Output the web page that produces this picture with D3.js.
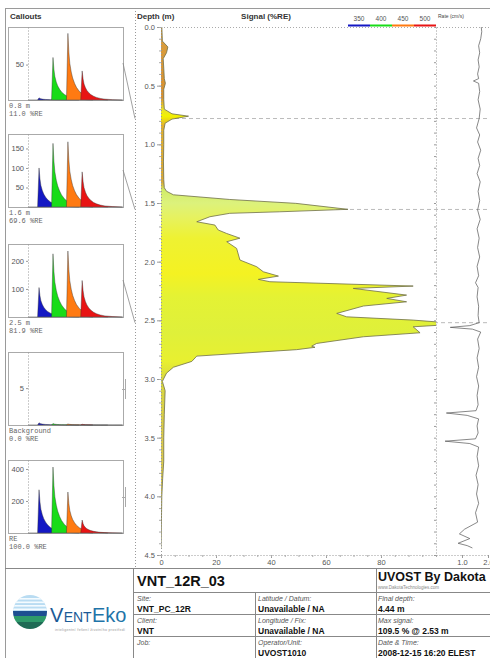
<!DOCTYPE html>
<html>
<head>
<meta charset="utf-8">
<title>VNT_12R_03</title>
<script src="https://cdnjs.cloudflare.com/ajax/libs/d3/7.8.5/d3.min.js"></script>
<style>
  body { margin: 0; background: #fff; }
  svg { display: block; font-family: "Liberation Sans", Arial, sans-serif; }
  .mono { font-family: "Liberation Mono", "DejaVu Sans Mono", monospace; }
  .tick text { fill: #555; }
</style>
</head>
<body>
<div id="chart"></div>
<script>
// ---- main log: signal (%RE) vs depth (m) ----
var sigDepth = [0.00, 0.12, 0.17, 0.22, 0.27, 0.35, 0.44, 0.48, 0.53, 0.62, 0.70, 0.74, 0.76, 0.785, 0.82, 0.88,
  1.00, 1.15, 1.30, 1.37, 1.40, 1.43, 1.47, 1.503, 1.554, 1.575, 1.588, 1.617, 1.66, 1.688, 1.73, 1.76,
  1.80, 1.83, 1.887, 1.986, 2.043, 2.086, 2.123, 2.151, 2.171, 2.208, 2.228, 2.285, 2.313, 2.342, 2.378,
  2.441, 2.47, 2.498, 2.53, 2.555, 2.606, 2.64, 2.697, 2.72, 2.73, 2.75, 2.805, 2.85, 2.90, 2.95, 3.02,
  3.10, 3.30, 3.50, 3.70, 3.85, 4.00, 4.44];
var sigValue = [0.3, 0.5, 2.5, 2.0, 0.8, 1.0, 1.2, 1.6, 1.0, 1.0, 1.2, 4.0, 10.0, 4.0, 1.5, 1.0,
  1.0, 0.9, 1.0, 1.2, 2.0, 4.5, 25, 49, 68, 43, 25, 17.8, 13, 19.6, 20.8, 23.9,
  28.7, 23.9, 27.5, 28.7, 34.8, 37.2, 42.7, 35.4, 39.6, 91.7, 69.9, 89.3, 82.1, 89.3, 73.6,
  63.9, 67.5, 91.7, 109.5, 91.7, 94.2, 73.6, 56.6, 54.8, 56.0, 49.3, 13, 11.2, 4.5, 2.0, 0.5,
  1.5, 1.2, 1.0, 1.0, 0.6, 0.3, 0];

// ---- rate of advance (cm/s) vs depth ----
var rateDepth = [0.00, 0.04, 0.10, 0.16, 0.22, 0.28, 0.34, 0.40, 0.44, 0.46, 0.48, 0.55, 0.62, 0.70, 0.78,
  0.86, 0.92, 0.98, 1.05, 1.12, 1.18, 1.25, 1.32, 1.40, 1.48, 1.56, 1.64, 1.72, 1.80, 1.88, 1.96, 2.04,
  2.12, 2.18, 2.22, 2.30, 2.38, 2.46, 2.52, 2.545, 2.56, 2.575, 2.60, 2.66, 2.74, 2.82, 2.90, 2.98, 3.06,
  3.14, 3.22, 3.27, 3.29, 3.31, 3.34, 3.40, 3.46, 3.51, 3.53, 3.55, 3.58, 3.66, 3.74, 3.82, 3.90, 3.98,
  4.06, 4.14, 4.22, 4.28, 4.32, 4.36, 4.40, 4.42, 4.44];
var rateValue = [1.74, 1.76, 1.72, 1.64, 1.68, 1.62, 1.66, 1.60, 1.64, 1.44, 1.64, 1.68, 1.62, 1.70, 1.66,
  1.56, 1.68, 1.60, 1.72, 1.62, 1.68, 1.58, 1.70, 1.62, 1.68, 1.60, 1.70, 1.58, 1.66, 1.60, 1.68, 1.58,
  1.64, 1.52, 1.62, 1.58, 1.64, 1.62, 1.66, 1.30, 0.55, 1.40, 1.72, 1.60, 1.66, 1.58, 1.64, 1.56, 1.64,
  1.58, 1.62, 1.54, 0.40, 1.20, 1.64, 1.58, 1.62, 1.52, 0.35, 1.30, 1.64, 1.58, 1.64, 1.54, 1.62, 1.56,
  1.64, 1.52, 1.60, 1.10, 0.90, 1.30, 0.85, 1.20, 1.40];

// ---- callout waveforms ----
var calloutName = ["0.8 m", "1.6 m", "2.5 m", "Background", "RE"];
var calloutSignal = ["11.0 %RE", "69.6 %RE", "81.9 %RE", "0.0 %RE", "100.0 %RE"];
var calloutDepth = [0.78, 1.555, 2.52, null, null];
var calloutMax = [103, 187, 260, 9.9, 456];
var calloutTicks = [[50], [50, 100, 150], [100, 200], [5], [200, 400]];
var peakBlue = [3, 100, 105, 0.3, 270];
var peakGreen = [60, 163, 225, 0.2, 412];
var peakOrange = [94, 167, 235, 0.15, 256];
var peakRed = [41, 90, 130, 0.1, 81];
var peakTime = [11.6, 26.3, 42, 57];            // 350, 400, 450, 500 nm channels
var pulseOffset = [-1.5, 0, 1, 2, 3.5, 5, 7, 9, 12, 15, 19, 24, 32, 42];
var pulseShape = [0, 1, 0.72, 0.55, 0.42, 0.33, 0.25, 0.19, 0.13, 0.09, 0.055, 0.03, 0.012, 0];

var legendLabels = ["350", "400", "450", "500"];
var channelColor = ["#1418c4", "#18dc18", "#ff7a12", "#e81414"];

var footerLabels = [["Site:", "Latitude / Datum:", "Final depth:"],
                    ["Client:", "Longitude / Fix:", "Max signal:"],
                    ["Job:", "Operator/Unit:", "Date & Time:"]];
var footerValues = [["VNT_PC_12R", "Unavailable / NA", "4.44 m"],
                    ["VNT", "Unavailable / NA", "109.5 % @ 2.53 m"],
                    ["", "UVOST1010", "2008-12-15 16:20 ELEST"]];

var svg = d3.select("#chart").append("svg")
    .attr("width", 490).attr("height", 658);

var y = d3.scaleLinear().domain([0, 4.5]).range([27, 555]);
var x = d3.scaleLinear().domain([0, 100]).range([161, 436]);
var xr = d3.scaleLinear().domain([0, 2]).range([436, 488]);

var defs = svg.append("defs");
defs.append("clipPath").attr("id", "plotClip").append("rect")
    .attr("x", 161).attr("y", 27).attr("width", 275).attr("height", 528);
defs.append("clipPath").attr("id", "rateClip").append("rect")
    .attr("x", 436).attr("y", 27).attr("width", 60).attr("height", 528);

// fill colour along depth
var grad = defs.append("linearGradient").attr("id", "sigFill")
    .attr("gradientUnits", "userSpaceOnUse")
    .attr("x1", 0).attr("x2", 0).attr("y1", y(0)).attr("y2", y(4.5));
[[0, "#d9a040"], [0.6, "#d89030"], [0.70, "#e8e030"], [0.76, "#f2f200"], [0.84, "#e0b030"],
 [1.32, "#d8a838"], [1.39, "#d2ec68"], [1.5, "#dcf27c"], [1.62, "#e6f260"], [1.8, "#eef232"],
 [2.1, "#f4f222"], [2.3, "#e4f234"], [2.6, "#dff03a"], [2.85, "#e8f030"], [3.0, "#d8d840"],
 [3.5, "#d8c850"], [4.5, "#d8c850"]].forEach(function(s) {
  grad.append("stop").attr("offset", s[0] / 4.5).attr("stop-color", s[1]);
});

// frame
svg.append("rect").attr("x", 5.5).attr("y", 8.5).attr("width", 500).attr("height", 660)
    .attr("fill", "none").attr("stroke", "#9a9a9a");
svg.append("line").attr("x1", 135.5).attr("x2", 135.5).attr("y1", 8).attr("y2", 568)
    .attr("stroke", "#999").attr("stroke-dasharray", "1,2");
svg.append("line").attr("x1", 5).attr("x2", 490).attr("y1", 568.5).attr("y2", 568.5)
    .attr("stroke", "#888");

// headers
svg.append("text").attr("x", 10).attr("y", 19).text("Callouts")
    .attr("font-size", 8).attr("font-weight", "bold").attr("fill", "#333");
svg.append("text").attr("x", 137).attr("y", 19).text("Depth (m)")
    .attr("font-size", 8).attr("font-weight", "bold").attr("fill", "#333");
svg.append("text").attr("x", 266).attr("y", 19).text("Signal (%RE)").attr("text-anchor", "middle")
    .attr("font-size", 8).attr("font-weight", "bold").attr("fill", "#333");
svg.append("text").attr("x", 438).attr("y", 18).text("Rate (cm/s)")
    .attr("font-size", 5).attr("fill", "#444");

var legX = d3.scaleBand().domain(legendLabels).range([348, 436]);
svg.selectAll(".legLab").data(legendLabels).enter().append("text")
    .attr("x", d => legX(d) + legX.bandwidth() / 2).attr("y", 21)
    .attr("text-anchor", "middle").attr("font-size", 6.5).attr("fill", "#555").text(d => d);
svg.selectAll(".legBar").data(legendLabels).enter().append("rect")
    .attr("x", d => legX(d)).attr("y", 24.5).attr("width", legX.bandwidth()).attr("height", 2)
    .attr("fill", (d, i) => channelColor[i]);

// callout depth lines
svg.selectAll(".cline").data(calloutDepth.filter(d => d != null)).enter().append("line")
    .attr("x1", 161).attr("x2", 490).attr("y1", d => y(d)).attr("y2", d => y(d))
    .attr("stroke", "#aaa").attr("stroke-dasharray", "4,3").attr("stroke-width", 0.8);

// signal area
var sig = sigDepth.map((d, i) => ({d: d, v: sigValue[i]}));
var plot = svg.append("g").attr("clip-path", "url(#plotClip)");
plot.append("path").datum(sig)
    .attr("d", d3.area().y(d => y(d.d)).x0(x(0)).x1(d => x(d.v)))
    .attr("fill", "url(#sigFill)");
plot.append("path").datum(sig)
    .attr("d", d3.line().y(d => y(d.d)).x(d => x(d.v)))
    .attr("fill", "none").attr("stroke", "#6e6e48").attr("stroke-width", 0.8);

// rate trace
var rate = rateDepth.map((d, i) => ({d: d, v: rateValue[i]}));
svg.append("g").attr("clip-path", "url(#rateClip)").append("path").datum(rate)
    .attr("d", d3.line().y(d => y(d.d)).x(d => xr(d.v)))
    .attr("fill", "none").attr("stroke", "#555").attr("stroke-width", 0.7);

// axes
function styleAxis(g, dash) {
  g.select(".domain").attr("stroke", "#999").attr("stroke-dasharray", dash ? "1,2" : null);
  g.selectAll(".tick line").attr("stroke", "#999");
  g.selectAll(".tick text").attr("font-size", 7.5);
}
svg.append("g").attr("transform", "translate(161,0)")
    .call(d3.axisLeft(y).tickValues(d3.range(0, 4.51, 0.5)).tickFormat(d3.format(".1f")).tickSize(4).tickPadding(2))
    .call(g => styleAxis(g, true));
svg.append("g").attr("transform", "translate(161,0)")
    .call(d3.axisLeft(y).tickValues(d3.range(0, 4.51, 0.1)).tickFormat("").tickSize(2).tickSizeOuter(0))
    .call(g => { g.select(".domain").remove(); g.selectAll("line").attr("stroke", "#aaa"); });
svg.append("g").attr("transform", "translate(436,0)")
    .call(d3.axisLeft(y).tickValues(d3.range(0, 4.51, 0.1)).tickFormat("").tickSize(2).tickSizeOuter(0))
    .call(g => styleAxis(g, true));
svg.append("g").attr("transform", "translate(0,555)")
    .call(d3.axisBottom(x).tickValues([0, 20, 40, 60, 80]).tickSize(3).tickSizeOuter(0).tickPadding(2))
    .call(g => styleAxis(g, true));
svg.append("g").attr("transform", "translate(0,555)")
    .call(d3.axisBottom(x).tickValues(d3.range(0, 101, 5)).tickFormat("").tickSize(2).tickSizeOuter(0))
    .call(g => { g.select(".domain").remove(); g.selectAll("line").attr("stroke", "#aaa"); });
svg.append("g").attr("transform", "translate(0,555)")
    .call(d3.axisBottom(xr).tickValues([1, 2]).tickFormat(d3.format(".1f")).tickSize(3).tickSizeOuter(0).tickPadding(2))
    .call(g => styleAxis(g, true));
svg.append("line").attr("x1", 161).attr("x2", 490).attr("y1", 27.5).attr("y2", 27.5)
    .attr("stroke", "#aaa").attr("stroke-dasharray", "1,2");

// callouts
var boxTop = [27, 134, 244, 352, 460];
var peaks = [peakBlue, peakGreen, peakOrange, peakRed];
var tx = d3.scaleLinear().domain([0, 100]).range([28, 123]);
boxTop.forEach(function(top, k) {
  var g = svg.append("g");
  var cy = d3.scaleLinear().domain([0, calloutMax[k]]).range([top + 73, top]);
  g.append("rect").attr("x", 8.5).attr("y", top + 0.5).attr("width", 115).attr("height", 73)
      .attr("fill", "#fff").attr("stroke", "#aaa");
  peaks.forEach(function(p, c) {
    var pts = pulseOffset.map((o, i) => ({t: peakTime[c] + o, a: p[k] * pulseShape[i]}));
    g.append("path").datum(pts)
        .attr("d", d3.area().x(d => tx(d.t)).y0(cy(0)).y1(d => cy(d.a)))
        .attr("fill", channelColor[c]);
    g.append("path").datum(pts)
        .attr("d", d3.line().x(d => tx(d.t)).y(d => cy(d.a)))
        .attr("fill", "none").attr("stroke", "#333").attr("stroke-width", 0.6).attr("stroke-opacity", 0.7);
  });
  g.append("line").attr("x1", 28).attr("x2", 123).attr("y1", top + 73).attr("y2", top + 73)
      .attr("stroke", "#555").attr("stroke-width", 0.6);
  g.append("g").attr("transform", "translate(28,0)")
      .call(d3.axisLeft(cy).tickValues(calloutTicks[k]).tickSize(2).tickSizeOuter(0).tickPadding(2))
      .call(a => styleAxis(a, true));
  g.append("text").attr("class", "mono").attr("x", 9).attr("y", top + 81).text(calloutName[k])
      .attr("font-size", 7).attr("fill", "#666");
  g.append("text").attr("class", "mono").attr("x", 9).attr("y", top + 89).text(calloutSignal[k])
      .attr("font-size", 7).attr("fill", "#666");
  if (calloutDepth[k] != null) {
    g.append("line").attr("x1", 123).attr("y1", top + 36).attr("x2", 135).attr("y2", y(calloutDepth[k]))
        .attr("stroke", "#888").attr("stroke-width", 0.8);
  } else {
    g.append("line").attr("x1", 125.5).attr("x2", 125.5).attr("y1", top + 27).attr("y2", top + 47)
        .attr("stroke", "#aaa");
    g.append("line").attr("x1", 122).attr("x2", 126).attr("y1", top + 37.5).attr("y2", top + 37.5)
        .attr("stroke", "#aaa");
  }
});

// footer table
var ft = svg.append("g");
[[133.5, 568, 658], [376.5, 568, 658], [255.5, 592, 658]].forEach(function(l) {
  ft.append("line").attr("x1", l[0]).attr("x2", l[0]).attr("y1", l[1]).attr("y2", l[2]).attr("stroke", "#888");
});
[592.5, 614.5, 636.5].forEach(function(v) {
  ft.append("line").attr("x1", 133).attr("x2", 490).attr("y1", v).attr("y2", v).attr("stroke", "#888");
});
ft.append("text").attr("x", 137).attr("y", 586).text("VNT_12R_03")
    .attr("font-size", 14.5).attr("font-weight", "bold").attr("fill", "#111");
ft.append("text").attr("x", 378).attr("y", 581).text("UVOST By Dakota")
    .attr("font-size", 12.5).attr("font-weight", "bold").attr("fill", "#111");
ft.append("text").attr("x", 378).attr("y", 589).text("www.DakotaTechnologies.com")
    .attr("font-size", 4.5).attr("fill", "#888");
var colX = [137, 258, 378];
footerLabels.forEach(function(row, r) {
  row.forEach(function(lab, c) {
    ft.append("text").attr("x", colX[c]).attr("y", 600.5 + r * 22).text(lab)
        .attr("font-size", 7).attr("font-style", "italic").attr("fill", "#555");
    ft.append("text").attr("x", colX[c]).attr("y", 611.5 + r * 22).text(footerValues[r][c])
        .attr("font-size", 8.5).attr("font-weight", "bold").attr("fill", "#111");
  });
});

// VentEko logo
defs.append("clipPath").attr("id", "globe").append("circle").attr("cx", 30).attr("cy", 612).attr("r", 17);
var lg = svg.append("g").attr("clip-path", "url(#globe)");
lg.append("rect").attr("x", 13).attr("y", 595).attr("width", 34).attr("height", 17).attr("fill", "#b9dcf2");
[598, 601.5, 605, 608.5].forEach(function(v) {
  lg.append("rect").attr("x", 13).attr("y", v).attr("width", 34).attr("height", 1.6).attr("fill", "#f4fbff");
});
lg.append("rect").attr("x", 13).attr("y", 611).attr("width", 34).attr("height", 5).attr("fill", "#1d4f91");
lg.append("rect").attr("x", 13).attr("y", 616).attr("width", 34).attr("height", 6).attr("fill", "#2e9a6a");
lg.append("rect").attr("x", 13).attr("y", 622).attr("width", 34).attr("height", 8).attr("fill", "#1f6b55");
// logotype: large V, small-caps ENT, Eko - placed piece by piece
var logoParts = [["V", 20, "#1b5a96"], ["ENT", 14, "#1b5a96"], ["Eko", 20, "#1f74a8"]];
var lx = 50;
logoParts.forEach(function(p) {
  var t = svg.append("text").attr("x", lx).attr("y", 622).text(p[0])
      .attr("font-size", p[1]).attr("fill", p[2]);
  lx += t.node().getComputedTextLength() + 0.3;
});
svg.append("text").attr("x", 55).attr("y", 631).text("inteligentní řešení životního prostředí")
    .attr("font-size", 3.6).attr("fill", "#999").attr("textLength", 70);
</script>
</body>
</html>
